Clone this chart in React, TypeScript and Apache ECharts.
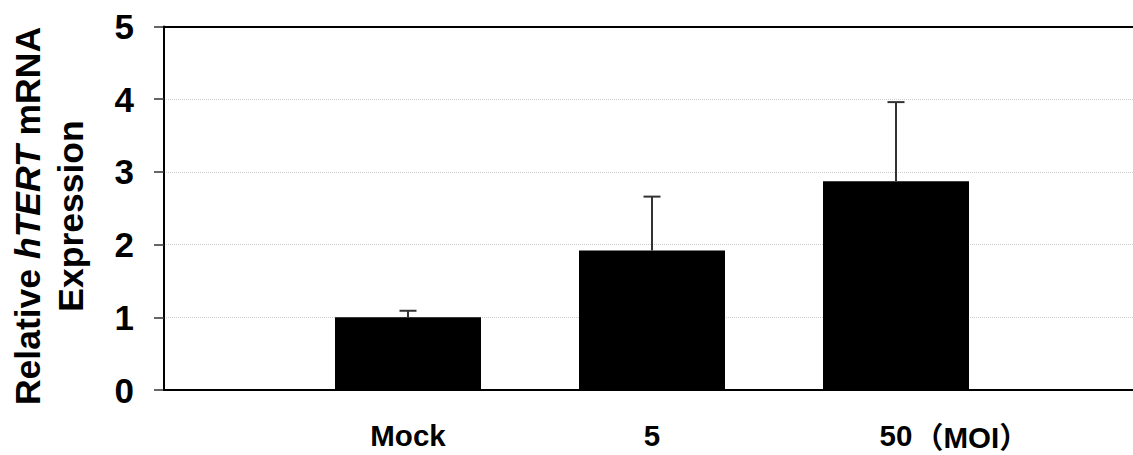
import React, { useEffect, useRef } from "react";
import * as echarts from "echarts";

const categories = ["", "Mock", "5", "50", ""];
const means = [null, 1.0, 1.92, 2.87, null];
const errors = [null, 0.09, 0.74, 1.09, null];
const yTicks = [0, 1, 2, 3, 4, 5];
const unitLabel = "（MOI）";

const FONT = "'Liberation Sans', Arial, Helvetica, sans-serif";

export default function App() {
  const ref = useRef<HTMLDivElement>(null);
  useEffect(() => {
    if (!ref.current) return;
    const chart = echarts.init(ref.current, undefined, { renderer: "svg" });
    const errData = categories
      .map((c, i) => (means[i] == null ? null : [i, means[i], errors[i]]))
      .filter((d) => d !== null);
    chart.setOption({
      animation: false,
      backgroundColor: "#ffffff",
      grid: {
        left: 164,
        top: 26.5,
        width: 976,
        height: 363.5,
        outerBoundsMode: "none",
        containLabel: false,
        show: false,
      },
      xAxis: [
        {
          type: "category",
          data: categories,
          boundaryGap: false,
          axisLine: { show: true, lineStyle: { color: "#000", width: 2 } },
          axisTick: { show: false },
          splitLine: { show: false },
          z: 5,
          axisLabel: {
            interval: 0,
            margin: 30,
            fontFamily: FONT,
            fontSize: 29.5,
            fontWeight: "bold",
            color: "#000",
          },
        },
        {
          type: "category",
          position: "top",
          data: categories,
          boundaryGap: false,
          axisLine: { show: true, lineStyle: { color: "#000", width: 2 } },
          axisTick: { show: false },
          axisLabel: { show: false },
          splitLine: { show: false },
          z: 5,
        },
      ],
      yAxis: {
        type: "value",
        min: yTicks[0],
        max: yTicks[yTicks.length - 1],
        interval: 1,
        axisLine: { show: true, lineStyle: { color: "#000", width: 2 } },
        axisTick: { show: true, inside: false, length: 10, lineStyle: { color: "#333", width: 1.5 } },
        splitLine: {
          show: true,
          showMinLine: false,
          showMaxLine: false,
          lineStyle: { color: "#ccc", type: "dotted", width: 1 },
        },
        axisLabel: {
          margin: 30,
          fontFamily: FONT,
          fontSize: 35,
          fontWeight: "bold",
          color: "#000",
        },
      },
      series: [
        {
          type: "bar",
          data: means,
          barWidth: 146,
          itemStyle: { color: "#000" },
          z: 2,
        },
        {
          type: "custom",
          data: errData,
          z: 3,
          renderItem: (params: any, api: any) => {
            const x = api.value(0);
            const m = api.value(1);
            const e = api.value(2);
            const base = api.coord([x, m]);
            const top = api.coord([x, m + e]);
            const half = 8.5;
            return {
              type: "group",
              children: [
                {
                  type: "line",
                  shape: { x1: base[0], y1: base[1], x2: top[0], y2: top[1] },
                  style: { stroke: "#333", lineWidth: 2 },
                },
                {
                  type: "line",
                  shape: { x1: top[0] - half, y1: top[1], x2: top[0] + half, y2: top[1] },
                  style: { stroke: "#333", lineWidth: 2 },
                },
              ],
            };
          },
        },
      ],
      graphic: [
        {
          type: "text",
          x: 28,
          y: 216,
          rotation: Math.PI / 2,
          style: {
            text: "{n|Relative }{i|hTERT}{n| mRNA}",
            align: "center",
            verticalAlign: "middle",
            rich: {
              n: { fontFamily: FONT, fontSize: 35.5, fontWeight: "bold", fill: "#000", color: "#000" },
              i: { fontFamily: FONT, fontSize: 35.5, fontWeight: "bold", fontStyle: "italic", fill: "#000", color: "#000" },
            },
          },
        },
        {
          type: "text",
          x: 71,
          y: 216,
          rotation: Math.PI / 2,
          style: {
            text: "Expression",
            align: "center",
            verticalAlign: "middle",
            fontFamily: FONT,
            fontSize: 35.5,
            fontWeight: "bold",
            fill: "#000",
          },
        },
        {
          type: "text",
          x: 914,
          y: 437,
          style: {
            text: unitLabel,
            align: "left",
            verticalAlign: "middle",
            fontFamily: FONT + ", 'Noto Sans CJK JP'",
            fontSize: 29.5,
            fontWeight: "bold",
            fill: "#000",
          },
        },
      ],
    });
    return () => chart.dispose();
  }, []);
  return (
    <div
      ref={ref}
      style={{ position: "fixed", left: 0, top: 0, width: 1133, height: 455, background: "#fff" }}
    />
  );
}
